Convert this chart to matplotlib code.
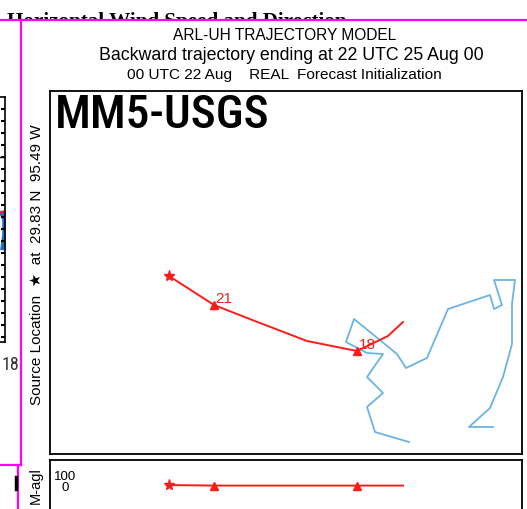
import matplotlib
matplotlib.use("Agg")
import matplotlib.pyplot as plt
from matplotlib import font_manager
from matplotlib.lines import Line2D
from matplotlib.patches import Rectangle

# backward trajectory, hourly points from 22 UTC back to 16 UTC
traj_hours = [22, 21, 20, 19, 18, 17, 16]
traj_lon = [-95.49, -95.04, -94.58, -94.11, -93.61, -93.30, -93.15]
traj_lat = [29.83, 29.54, 29.36, 29.18, 29.08, 29.23, 29.37]
traj_hgt = [15, 10, 10, 10, 10, 10, 10]
labelled_hours = [21, 18]

# light blue line in the map panel
blue_lon = [-93.09, -93.43, -93.51, -93.35, -93.51, -93.35, -93.51, -93.72,
            -93.64, -93.21, -93.12, -92.91, -92.70, -92.28, -92.24, -92.16,
            -92.24, -92.03, -92.06, -92.06, -92.15, -92.28, -92.49, -92.25]
blue_lat = [28.17, 28.27, 28.52, 28.66, 28.82, 29.05, 29.06, 29.17,
            29.40, 29.05, 28.91, 29.01, 29.50, 29.64, 29.50, 29.54,
            29.79, 29.79, 29.55, 29.15, 28.82, 28.51, 28.32, 28.32]

height_ticks = [100, 0]

W, H = 527, 510
RED = "#ff1a1a"
BLUE = "#6cb4e0"
SANS = ["Liberation Sans", "DejaVu Sans"]

# narrow face for the model name, whatever is installed
have = {f.name: f for f in font_manager.fontManager.ttflist}
narrow = dict(family="DejaVu Sans")
for name in ["Liberation Sans Narrow", "Roboto Condensed", "Open Sans Condensed"]:
    if name in have:
        narrow = dict(family=name)
        break
else:
    cond = [f for f in font_manager.fontManager.ttflist
            if f.name in ("DejaVu Sans", "Roboto", "Open Sans", "Noto Sans", "Inter")
            and f.stretch != "normal"]
    if cond:
        narrow = dict(family=cond[0].name, stretch=cond[0].stretch)


def fx(x):
    return x / W


def fy(y):
    return 1 - y / H


def box(x0, y0, x1, y1):
    return [fx(x0), fy(y1), (x1 - x0) / W, (y1 - y0) / H]


fig = plt.figure(figsize=(W / 100, H / 100), dpi=100)

# title of the page behind, mostly hidden
fig.text(fx(7), fy(27), "Horizontal Wind Speed and Direction", family="Liberation Serif",
         weight="bold", fontsize=15.2, ha="left", va="baseline", zorder=-2)
fig.patches.append(Rectangle((0, 0), 1, fy(21), transform=fig.transFigure,
                             facecolor="white", edgecolor="none", zorder=-1))

# strip of the neighbouring chart on the left
ax_l = fig.add_axes(box(-200, 98, 4.5, 343))
ax_l.set_xlim(0, 1)
ax_l.set_ylim(343, 98)
ax_l.set_yticks(range(110, 343, 12))
ax_l.yaxis.tick_right()
ax_l.tick_params(axis="y", direction="in", length=3, width=1.5, labelright=False)
ax_l.set_xticks([])
ax_l.fill_betweenx([212, 220, 235, 250], [0.97, 0.99, 0.99, 0.98], 1, color="#1f6fc0")
ax_l.plot([0.98, 1], [214, 212], color=RED, lw=1.5)
ax_l.axhline(158, color="black", lw=1)
for s in ax_l.spines.values():
    s.set_linewidth(1.2)
fig.text(fx(1.5), fy(370), "18", fontsize=13, color="#333333",
         ha="left", va="baseline", **narrow)

# main map panel
ax = fig.add_axes(box(50, 92, 522, 455))
ax.plot(blue_lon, blue_lat, color=BLUE, lw=1.3)
ax.plot(traj_lon, traj_lat, color=RED, lw=1.4)
ax.plot(traj_lon[0], traj_lat[0], marker="*", color=RED, ms=8, ls="none")
for h in labelled_hours:
    i = traj_hours.index(h)
    ax.plot(traj_lon[i], traj_lat[i], marker="^", color=RED, ms=6, ls="none")
    ax.annotate(str(h), (traj_lon[i], traj_lat[i]), xytext=(1, 0), textcoords="offset points",
                color=RED, fontsize=11, family=SANS, ha="left", va="bottom")
ax.set_xlim(-96.68, -91.96)
ax.set_ylim(28.05, 31.68)
ax.set_xticks([])
ax.set_yticks([])
for s in ax.spines.values():
    s.set_linewidth(1.3)
ax.text(0.011, 0.995, "MM5-USGS", transform=ax.transAxes, fontsize=34, weight="medium",
        ha="left", va="top", **narrow)

# vertical panel
ax_v = fig.add_axes(box(50, 461, 522, 540))
ax_v.plot(traj_lon, traj_hgt, color=RED, lw=1.4)
ax_v.plot(traj_lon[0], traj_hgt[0], marker="*", color=RED, ms=8, ls="none")
for h in labelled_hours:
    i = traj_hours.index(h)
    ax_v.plot(traj_lon[i], traj_hgt[i], marker="^", color=RED, ms=6, ls="none")
ax_v.set_xlim(-96.68, -91.96)
ax_v.set_ylim(-470, 240)
ax_v.set_xticks([])
ax_v.set_yticks([])
for t in height_ticks:
    ax_v.text(0.032, t, str(t), transform=ax_v.get_yaxis_transform(), family=SANS,
              fontsize=9.5, ha="center", va="center")
for s in ax_v.spines.values():
    s.set_linewidth(1.3)

# page text
fig.text(fx(285), fy(35), "ARL-UH TRAJECTORY MODEL", family=SANS, fontsize=11.2,
         ha="center", va="center")
fig.text(fx(291), fy(56), "Backward trajectory ending at 22 UTC 25 Aug 00", family=SANS,
         fontsize=12.75, ha="center", va="center")
fig.text(fx(284), fy(75), "00 UTC 22 Aug    REAL  Forecast Initialization", family=SANS,
         fontsize=11.1, ha="center", va="center")
fig.text(fx(37), fy(265), "Source Location  \u2605  at  29.83 N  95.49 W", family=SANS,
         fontsize=11, rotation=90, ha="center", va="center")
fig.text(fx(36), fy(486), "M-agl", family=SANS, fontsize=10.5, rotation=90,
         ha="center", va="center")

# magenta frame lines
MAG = "#ff00ff"
for xs, ys in [([0, 527], [21, 21]), ([20.5, 20.5], [21, 466]), ([0, 20.5], [466, 466]),
               ([17.5, 17.5], [466, 510])]:
    fig.lines.append(Line2D([fx(x) for x in xs], [fy(y) for y in ys], color=MAG, lw=1.6,
                            transform=fig.transFigure, zorder=5))
fig.lines.append(Line2D([fx(16), fx(16)], [fy(478), fy(490)], color="black", lw=2.5,
                        transform=fig.transFigure, zorder=5))

fig.savefig("out.png", dpi=100)
